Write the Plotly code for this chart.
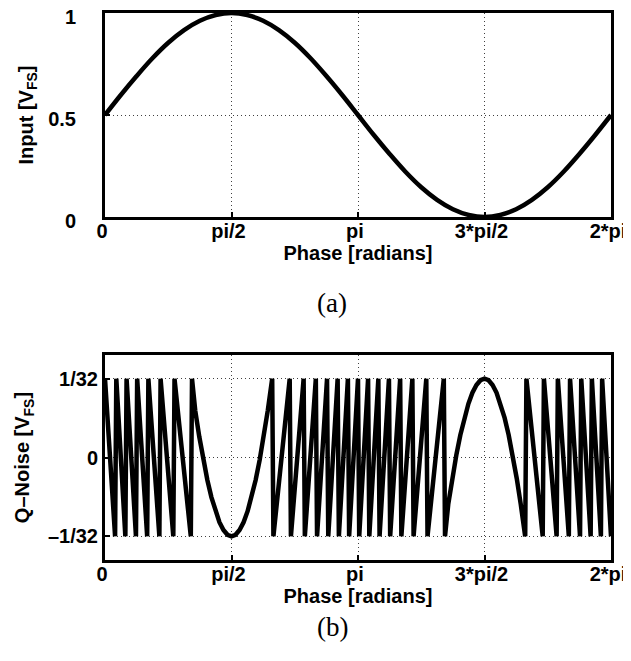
import plotly.graph_objects as go
from plotly.subplots import make_subplots

# top panel: input sine, phase in radians, value in V_FS
phase_in = [0.0, 0.1963, 0.3927, 0.5890, 0.7854, 0.9817, 1.1781, 1.3744, 1.5708,
            1.7671, 1.9635, 2.1598, 2.3562, 2.5525, 2.7489, 2.9452, 3.1416,
            3.3379, 3.5343, 3.7306, 3.9270, 4.1233, 4.3197, 4.5160, 4.7124,
            4.9087, 5.1051, 5.3014, 5.4978, 5.6941, 5.8905, 6.0868, 6.2832]
input_vfs = [0.500, 0.598, 0.691, 0.778, 0.854, 0.916, 0.962, 0.990, 1.000,
             0.990, 0.962, 0.916, 0.854, 0.778, 0.691, 0.598, 0.500,
             0.402, 0.309, 0.222, 0.146, 0.084, 0.038, 0.010, 0.000,
             0.010, 0.038, 0.084, 0.146, 0.222, 0.309, 0.402, 0.500]

# bottom panel: quantisation noise vertices, value in units of 1/32 V_FS
phase_q = [0.0000, 0.1253, 0.1403, 0.2527, 0.2677, 0.3844, 0.3994, 0.5236, 0.5386,
           0.6751, 0.6901, 0.8481, 0.8631, 1.0654, 1.0804,
           1.1208, 1.1708, 1.2208, 1.2708, 1.3208, 1.3708, 1.4208, 1.4708, 1.5208,
           1.5708, 1.6208, 1.6708, 1.7208, 1.7708, 1.8208, 1.8708, 1.9208, 1.9708,
           2.0208, 2.0762, 2.0912,
           2.2935, 2.3085, 2.4665, 2.4815, 2.6180, 2.6330, 2.7572, 2.7722,
           2.8889, 2.9039, 3.0163, 3.0313, 3.1416, 3.1566, 3.2669, 3.2819,
           3.3943, 3.4093, 3.5260, 3.5410, 3.6652, 3.6802, 3.8167, 3.8317,
           3.9897, 4.0047, 4.2070, 4.2220,
           4.2624, 4.3124, 4.3624, 4.4124, 4.4624, 4.5124, 4.5624, 4.6124, 4.6624,
           4.7124, 4.7624, 4.8124, 4.8624, 4.9124, 4.9624, 5.0124, 5.0624, 5.1124,
           5.1624, 5.2178, 5.2328,
           5.4351, 5.4501, 5.6081, 5.6231, 5.7596, 5.7746, 5.8988, 5.9138,
           6.0305, 6.0455, 6.1579, 6.1729, 6.2832]
noise_lsb = [1, -1, 1, -1, 1, -1, 1, -1, 1,
             -1, 1, -1, 1, -1, 1,
             0.593, 0.263, -0.030, -0.285, -0.502, -0.681, -0.821, -0.920, -0.980,
             -1.0, -0.980, -0.920, -0.821, -0.681, -0.502, -0.285, -0.030, 0.263,
             0.593, 1, -1,
             1, -1, 1, -1, 1, -1, 1, -1,
             1, -1, 1, -1, 1, -1, 1, -1,
             1, -1, 1, -1, 1, -1, 1, -1,
             1, -1, 1, -1,
             -0.593, -0.263, 0.030, 0.285, 0.502, 0.681, 0.821, 0.920, 0.980,
             1.0, 0.980, 0.920, 0.821, 0.681, 0.502, 0.285, 0.030, -0.263,
             -0.593, -1, 1,
             -1, 1, -1, 1, -1, 1, -1, 1,
             -1, 1, -1, 1, -1]

x_ticks = [0, 1.5708, 3.1416, 4.7124, 6.2832]
x_labels = ["0", "pi/2", "pi", "3*pi/2", "2*pi"]
y1_ticks = [0, 0.5, 1]
y1_labels = ["0", "0.5", "1"]
y2_ticks = [-1, 0, 1]
y2_labels = ["\u20131/32", "0", "1/32"]

W, H = 631, 661
OFF = 8  # page body margin shifts the figure by this much

fig = make_subplots(rows=2, cols=1)

fig.add_trace(go.Scatter(x=phase_in, y=input_vfs, mode="lines", line_shape="spline",
                         line=dict(color="black", width=4.5)), row=1, col=1)
fig.add_trace(go.Scatter(x=phase_q, y=noise_lsb, mode="lines",
                         line=dict(color="black", width=4.5)), row=2, col=1)

tick_font = dict(family="Liberation Sans", size=20, color="black", weight="bold")
axis_common = dict(showline=True, mirror=True, linecolor="black", linewidth=3,
                   ticks="inside", ticklen=5, tickwidth=2, tickcolor="black",
                   showgrid=True, gridcolor="rgba(0,0,0,0.75)", gridwidth=1,
                   griddash="1px,3px", zeroline=False, tickfont=tick_font,
                   ticklabeloverflow="allow", automargin=False)

for r in (1, 2):
    fig.update_xaxes(range=[0, 6.2832], tickvals=x_ticks, ticktext=x_labels,
                     title=dict(text="Phase [radians]", font=tick_font, standoff=0),
                     ticklabelstandoff=-6, ticklabelshift=-3,
                     row=r, col=1, **axis_common)

fig.update_yaxes(range=[0, 1], tickvals=y1_ticks, ticktext=y1_labels,
                 title=dict(text="Input [V<sub>FS</sub>]", font=tick_font, standoff=10),
                 ticklabelstandoff=22, ticklabelshift=4, row=1, col=1, **axis_common)
fig.update_yaxes(range=[-1.3, 1.3], tickvals=y2_ticks, ticktext=y2_labels,
                 title=dict(text="Q\u2013Noise [V<sub>FS</sub>]", font=tick_font, standoff=13),
                 row=2, col=1, **axis_common)

fig.update_layout(
    width=W, height=H,
    margin=dict(l=105 - OFF, r=20 + OFF, t=0, b=0),
    plot_bgcolor="white", paper_bgcolor="white",
    showlegend=False,
    xaxis=dict(domain=[0, 1]),
    yaxis=dict(domain=[1 - (217 - OFF) / H, 1 - (13 - OFF) / H]),
    xaxis2=dict(domain=[0, 1]),
    yaxis2=dict(domain=[1 - (560 - OFF) / H, 1 - (355 - OFF) / H]),
)

for lbl, ypix in (("(a)", 303), ("(b)", 644)):
    fig.add_annotation(text=lbl, x=(332 - 105) / 506, y=1 - (ypix - OFF) / H,
                       xref="paper", yref="paper", showarrow=False,
                       font=dict(family="Liberation Serif", size=27, color="black"))

fig.write_html("out.html")
